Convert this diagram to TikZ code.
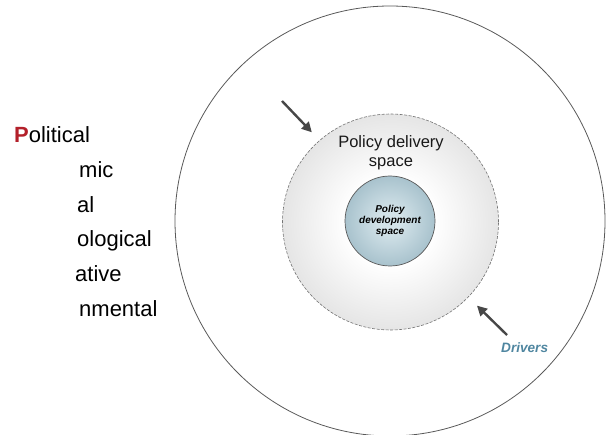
\documentclass[tikz,border=0pt]{standalone}
\usepackage{fontspec}
\setmainfont{Liberation Sans}
\usetikzlibrary{arrows.meta}
\definecolor{pestred}{HTML}{B3202A}
\definecolor{drvblue}{HTML}{4F86A0}
\definecolor{devedge}{HTML}{7097A8}
\definecolor{devmid}{HTML}{D3E3E9}
\pgfdeclareradialshading{delivshade}{\pgfpoint{0bp}{0bp}}{color(0bp)=(white); color(10bp)=(white); color(50bp)=(black!27)}
\pgfdeclareradialshading{devshade}{\pgfpoint{0bp}{0bp}}{color(0bp)=(devmid); color(6bp)=(devmid); color(50bp)=(devedge)}
\tikzset{
    pushline/.style={line width=2.4pt, draw=black!72, -{Triangle[length=10pt,width=10pt]}},
    pestlabel/.style={anchor=base west, inner sep=0pt, font=\fontsize{22}{22}\selectfont}
}
\begin{document}
\begin{tikzpicture}[x=1pt,y=-1pt]
        \useasboundingbox (0,0) rectangle (609,435);
        \node[circle, draw=black!65, line width=0.8pt, minimum size=430pt, inner sep=0pt] (env) at (390,221) {};
        \node[circle, shading=delivshade, draw=black!55, dashed, dash pattern=on 3pt off 1.5pt, line width=0.6pt, minimum size=216pt, inner sep=0pt] (deliv) at (390.5,222) {};
        \node[circle, shading=devshade, draw=black!65, line width=0.7pt, minimum size=90pt, inner sep=0pt, align=center, font=\fontsize{10}{11}\selectfont\bfseries\itshape] (dev) at (390,221) {Policy\\development\\space};
        \node[align=center, font=\fontsize{16.5}{19}\selectfont, text=black!90] (delivtext) at (391,153) {Policy delivery\\space};
        \foreach \u/\v/\w in {79/177.6/mic,77/212.2/al,77/246.8/ological,75/281.4/ative,79/316/nmental}
            {
                \node[pestlabel] (pest-\w) at (\u,\v) {\w};
            }
        \node[pestlabel] (pest-pol) at (14,143) {\textcolor{pestred}{\bfseries P}olitical};
        \coordinate (drvtailA) at (282,101);
        \coordinate (drvtailB) at (507,335);
        \draw[pushline, shorten >=11pt] (drvtailA) -- (deliv.131);
        \draw[pushline, shorten >=12pt] (drvtailB) -- (deliv.-44);
        \node[anchor=base west, inner sep=0pt, text=drvblue, font=\fontsize{13.6}{14}\selectfont\bfseries\itshape] (drivers) at (501,352) {Drivers};
    \end{tikzpicture}
\end{document}
